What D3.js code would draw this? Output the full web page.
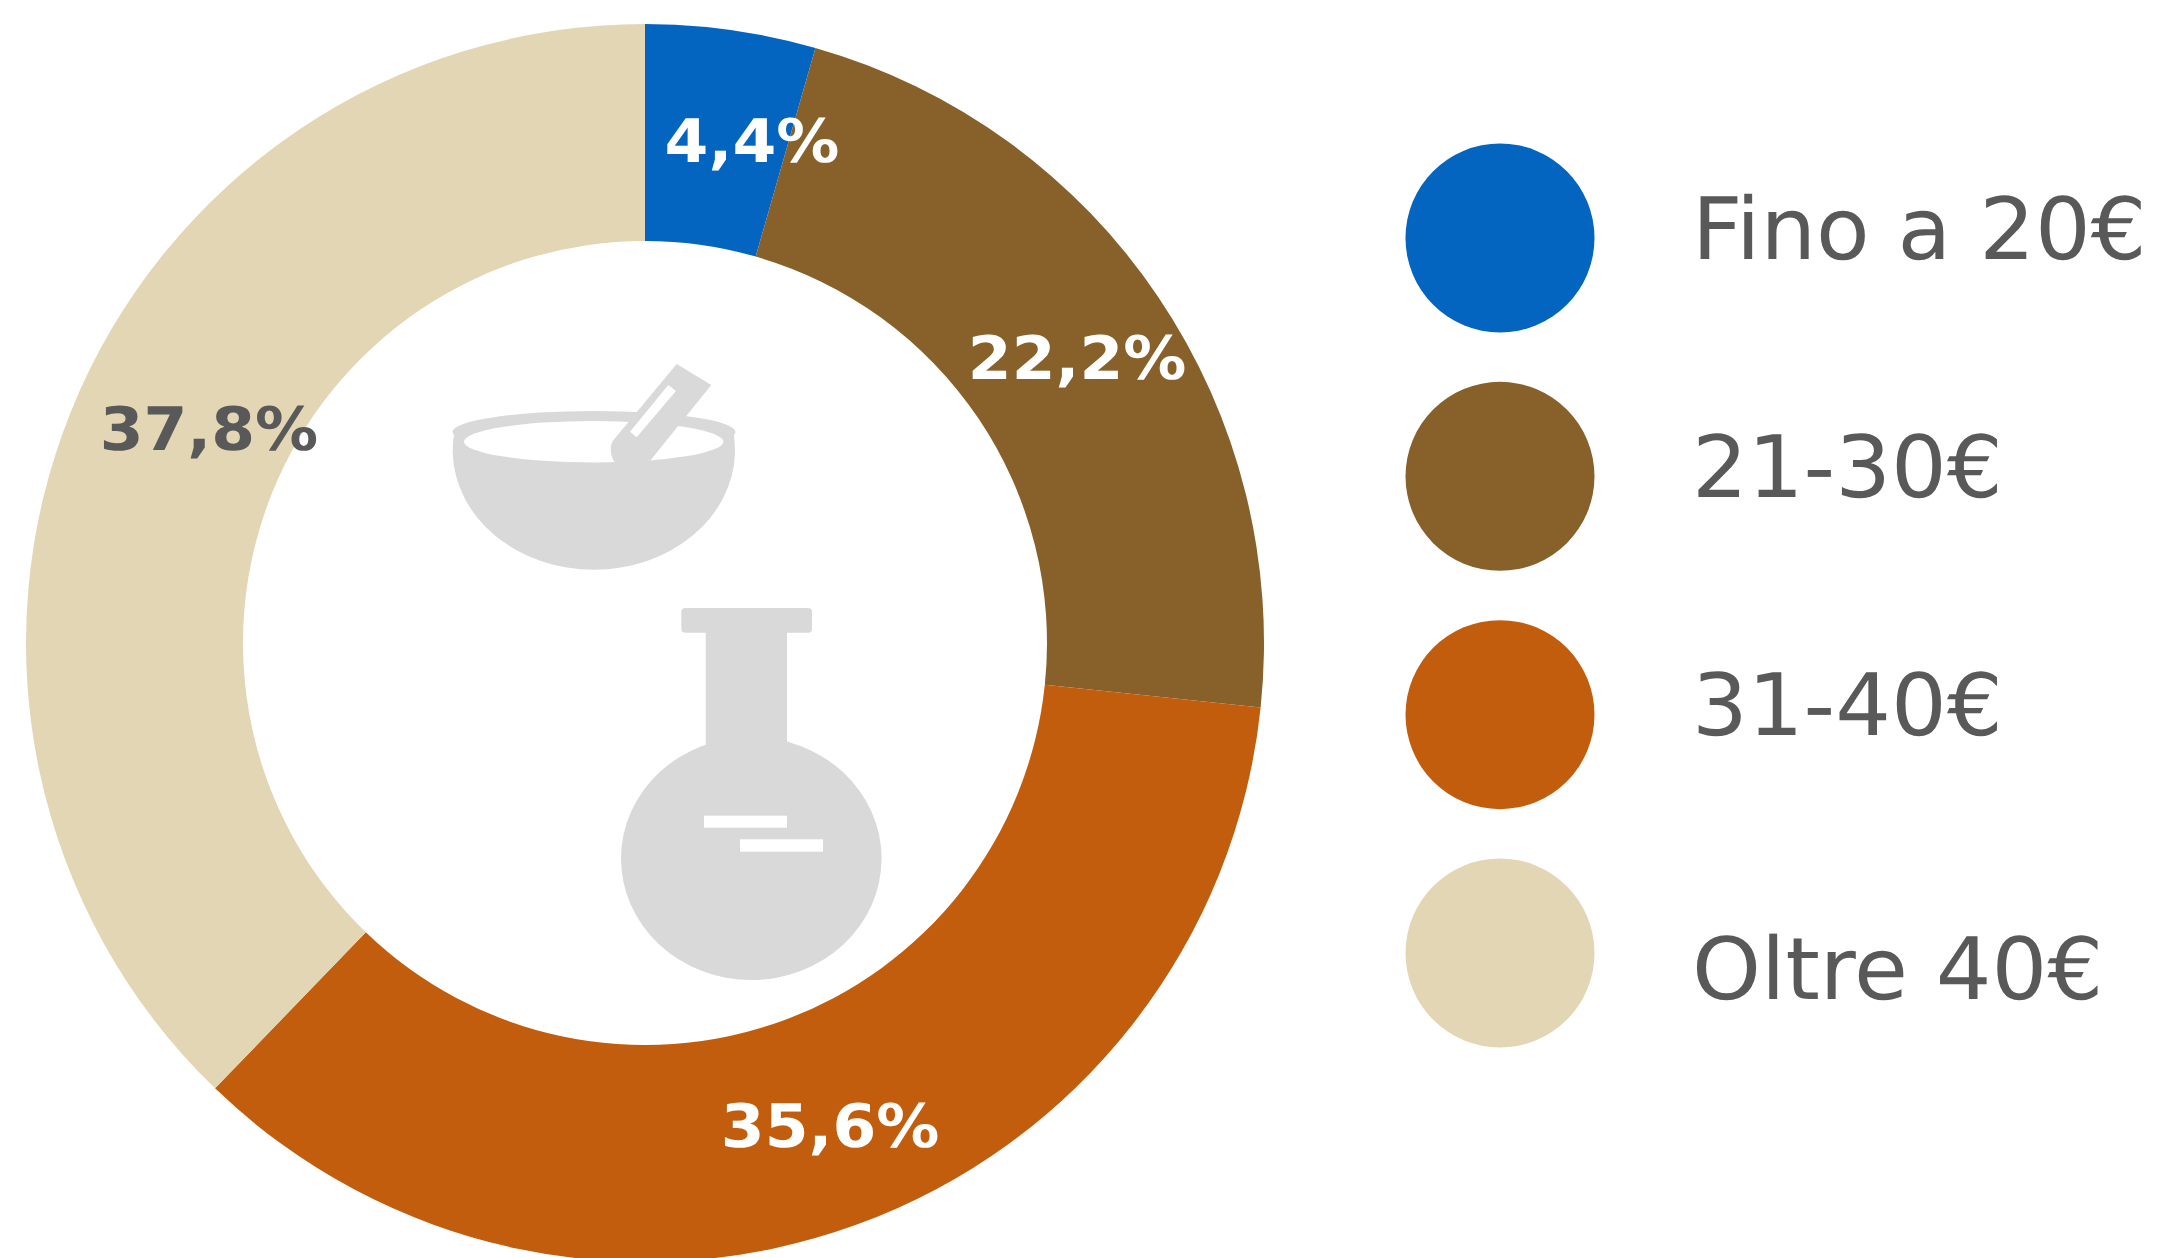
<!DOCTYPE html>
<html>
<head>
<meta charset="utf-8">
<script src="https://cdn.jsdelivr.net/npm/d3@7"></script>
<style>
  body { margin: 0; background: #fff; }
  text { font-family: "DejaVu Sans", sans-serif; text-rendering: geometricPrecision; }
</style>
</head>
<body>
<div id="viz-container"></div>
<script>
// data
let categories = ["Fino a 20€", "21-30€", "31-40€", "Oltre 40€"];
let shares = [4.44, 22.22, 35.56, 37.78];
let shareLabels = ["4,4%", "22,2%", "35,6%", "37,8%"];
let colors = ["#0465C0", "#87602A", "#C25D0D", "#E2D6B4"];
let labelColors = ["#fff", "#fff", "#fff", "#595959"];

// label offset from the slice centroid, baseline
let labelNudgeX = [36, 9, 10.4, 37.3];
let labelNudgeY = [24.5, 21.7, 24.3, -1.8];
// legend text baseline below the circle centre
let legendTextY = [21, 21, 20, 46];

let width = 2157, height = 1258;
let cx = 645, cy = 643, outerR = 619, innerR = 402;

let viz = d3.select("#viz-container")
  .append("svg")
    .attr("width", width)
    .attr("height", height)
    .style("display", "block")
    .style("background-color", "white");

let pie = d3.pie().sort(null).value(d => d);
let arc = d3.arc().innerRadius(innerR).outerRadius(outerR);
let slices = pie(shares);

let donut = viz.append("g").attr("transform", `translate(${cx},${cy})`);

donut.selectAll("path").data(slices).enter().append("path")
  .attr("d", arc)
  .attr("fill", (d, i) => colors[i]);

// icons in the hole
let gray = "#D9D9D9";
let icons = viz.append("g");

// mortar
icons.append("ellipse").attr("fill", gray)
  .attr("cx", 594).attr("cy", 432).attr("rx", 141.5).attr("ry", 21);
icons.append("path").attr("fill", gray)
  .attr("d", "M454 435 C453 441 452.7 447 452.7 453 A141.2 120 0 0 0 735 453 C735 447 734.5 441 734 435 Z");
icons.append("ellipse").attr("fill", "white")
  .attr("cx", 593.7).attr("cy", 441.7).attr("rx", 129.7).attr("ry", 20.7);
// pestle
icons.append("path").attr("fill", gray)
  .attr("d", "M676.7 364 L711.3 385 L650.7 460 L620 470 L614.3 462 C609 452 610 443 615 438.3 Z");
icons.append("path").attr("fill", "white")
  .attr("d", "M668.3 385 L676 391 L636.7 437.3 L630 431.7 Z");

// flask
icons.append("rect").attr("fill", gray)
  .attr("x", 681.3).attr("y", 608).attr("width", 130.7).attr("height", 24.7).attr("rx", 4);
icons.append("rect").attr("fill", gray)
  .attr("x", 705.7).attr("y", 625).attr("width", 81.3).attr("height", 130);
icons.append("ellipse").attr("fill", gray)
  .attr("cx", 751.3).attr("cy", 858.5).attr("rx", 130.3).attr("ry", 121.5);
icons.append("rect").attr("fill", "white")
  .attr("x", 704).attr("y", 815.7).attr("width", 83).attr("height", 12);
icons.append("rect").attr("fill", "white")
  .attr("x", 740).attr("y", 839.3).attr("width", 83).attr("height", 12.4);

// percent labels, the original glyphs are a bit wider than DejaVu
donut.selectAll("text").data(slices).enter().append("text")
  .attr("transform", (d, i) => {
    let x = arc.centroid(d)[0] + labelNudgeX[i];
    let y = arc.centroid(d)[1] + labelNudgeY[i];
    return `translate(${x},${y}) scale(1.05,1)`;
  })
  .attr("text-anchor", "middle")
  .attr("font-weight", "bold")
  .attr("font-size", 60)
  .attr("fill", (d, i) => labelColors[i])
  .text((d, i) => shareLabels[i]);

// legend
let legendY = d3.scalePoint().domain(categories).range([238, 953]);

let legend = viz.selectAll(".legend").data(categories).enter().append("g")
  .attr("class", "legend")
  .attr("transform", d => `translate(0,${legendY(d)})`);

legend.append("circle")
  .attr("cx", 1500)
  .attr("r", 94.5)
  .attr("fill", (d, i) => colors[i]);

legend.append("text")
  .attr("transform", (d, i) => `translate(1692,${legendTextY[i]}) scale(1.02,1)`)
  .attr("font-size", 86)
  .attr("fill", "#595959")
  .text(d => d);
</script>
</body>
</html>
